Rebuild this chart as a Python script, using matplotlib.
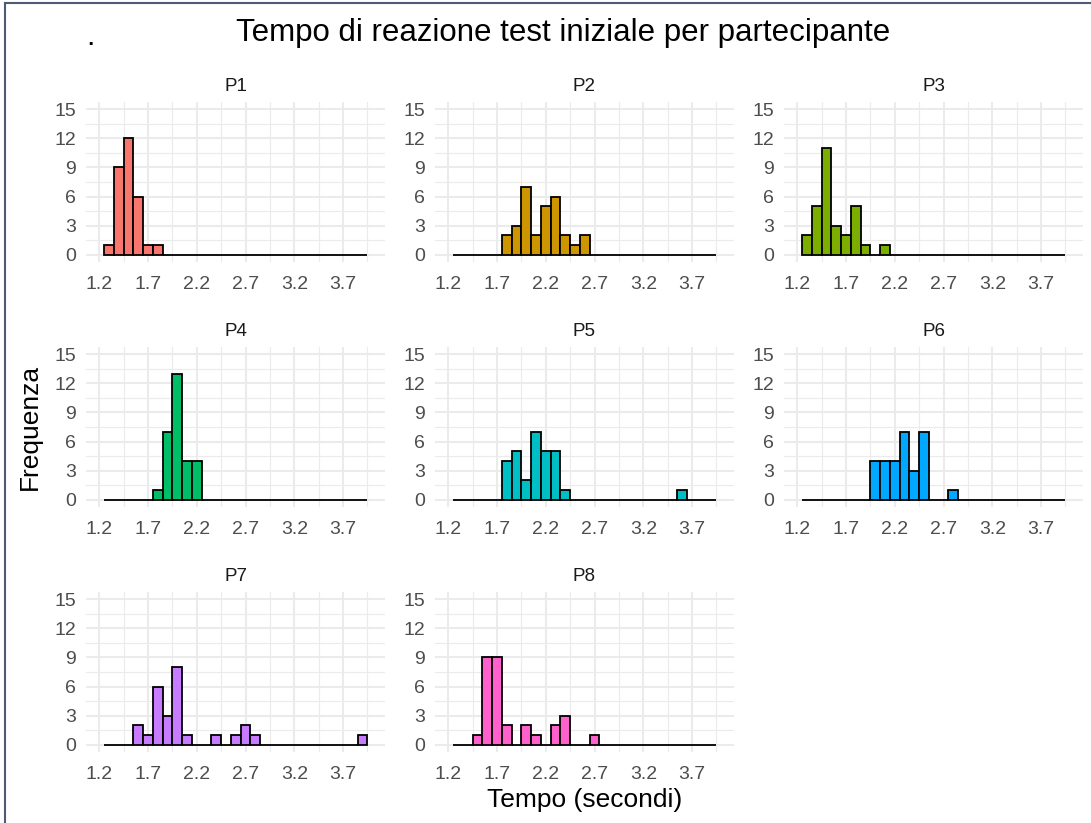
"""
    Facet histograms of initial-test reaction time, one panel per participant.
"""
import matplotlib
matplotlib.use("Agg")
import matplotlib.pyplot as plt
from matplotlib.lines import Line2D

plt.rcParams['font.family'] = ['Liberation Sans', 'DejaVu Sans']

# bin centres (binwidth 0.1)
bin_centers = [1.3, 1.4, 1.5, 1.6, 1.7, 1.8, 1.9, 2.0, 2.1, 2.2, 2.3, 2.4, 2.5, 2.6,
               2.7, 2.8, 2.9, 3.0, 3.1, 3.2, 3.3, 3.4, 3.5, 3.6, 3.7, 3.8, 3.9]

participants = ["P1", "P2", "P3", "P4", "P5", "P6", "P7", "P8"]

p1 = [1, 9, 12, 6, 1, 1, 0, 0, 0, 0, 0, 0, 0, 0, 0, 0, 0, 0, 0, 0, 0, 0, 0, 0, 0, 0, 0]
p2 = [0, 0, 0, 0, 0, 2, 3, 7, 2, 5, 6, 2, 1, 2, 0, 0, 0, 0, 0, 0, 0, 0, 0, 0, 0, 0, 0]
p3 = [2, 5, 11, 3, 2, 5, 1, 0, 1, 0, 0, 0, 0, 0, 0, 0, 0, 0, 0, 0, 0, 0, 0, 0, 0, 0, 0]
p4 = [0, 0, 0, 0, 0, 1, 7, 13, 4, 4, 0, 0, 0, 0, 0, 0, 0, 0, 0, 0, 0, 0, 0, 0, 0, 0, 0]
p5 = [0, 0, 0, 0, 0, 4, 5, 2, 7, 5, 5, 1, 0, 0, 0, 0, 0, 0, 0, 0, 0, 0, 0, 1, 0, 0, 0]
p6 = [0, 0, 0, 0, 0, 0, 0, 4, 4, 4, 7, 3, 7, 0, 0, 1, 0, 0, 0, 0, 0, 0, 0, 0, 0, 0, 0]
p7 = [0, 0, 0, 2, 1, 6, 3, 8, 1, 0, 0, 1, 0, 1, 2, 1, 0, 0, 0, 0, 0, 0, 0, 0, 0, 0, 1]
p8 = [0, 0, 1, 9, 9, 2, 0, 2, 1, 0, 2, 3, 0, 0, 1, 0, 0, 0, 0, 0, 0, 0, 0, 0, 0, 0, 0]
counts = [p1, p2, p3, p4, p5, p6, p7, p8]

colors = ["#F8766D", "#CD9600", "#7CAE00", "#00BE67",
          "#00BFC4", "#00A9FF", "#C77CFF", "#FF61CC"]

x_breaks = [1.2, 1.7, 2.2, 2.7, 3.2, 3.7]
x_minor = [0.95, 1.45, 1.95, 2.45, 2.95, 3.45, 3.95]
y_breaks = [0, 3, 6, 9, 12, 15]
y_minor = [1.5, 4.5, 7.5, 10.5, 13.5]

W, H = 1091, 823
fig = plt.figure(figsize=(W / 100, H / 100), dpi=100)

def px_rect(left, top, w, h):
    return [left / W, 1 - (top + h) / H, w / W, h / H]

col_left = [86, 435, 784]
row_top = [102, 347, 592]
panel_w, panel_h = 299, 160

for i, name in enumerate(participants):
    r, c = divmod(i, 3)
    ax = fig.add_axes(px_rect(col_left[c], row_top[r], panel_w, panel_h))
    ax.set_xlim(1.063, 4.13)
    ax.set_ylim(-0.75, 15.75)

    # grid like theme_minimal
    for v in x_minor:
        ax.axvline(v, color="#EBEBEB", lw=0.8, zorder=0)
    for v in x_breaks:
        ax.axvline(v, color="#EBEBEB", lw=1.5, zorder=0)
    for v in y_minor:
        ax.axhline(v, color="#EBEBEB", lw=0.8, zorder=0)
    for v in y_breaks:
        ax.axhline(v, color="#EBEBEB", lw=1.5, zorder=0)

    ax.bar(bin_centers, counts[i], width=0.1, color=colors[i],
           edgecolor="black", linewidth=1.3, zorder=2)

    ax.set_xticks(x_breaks)
    ax.set_xticklabels([f"{v:.1f}" for v in x_breaks])
    ax.set_yticks(y_breaks)
    ax.tick_params(length=0, labelsize=14, labelcolor="#4D4D4D", pad=7)
    ax.tick_params(axis="x", pad=10)
    for s in ax.spines.values():
        s.set_visible(False)
    ax.set_title(name, fontsize=13.5, color="#1A1A1A", pad=8)

fig.text(563 / W, 1 - 33 / H, "Tempo di reazione test iniziale per partecipante",
         ha="center", va="center", fontsize=22.5, color="black")
fig.text(90 / W, 1 - 37 / H, ".", ha="center", va="center", fontsize=22)
fig.text(30 / W, 1 - 427 / H, "Frequenza", rotation=90,
         ha="center", va="center", fontsize=19)
fig.text(585 / W, 1 - 800 / H, "Tempo (secondi)",
         ha="center", va="center", fontsize=19)

# screenshot frame
fig.add_artist(Line2D([5 / W, 5 / W], [0, 1 - 3 / H], color="#4F5B73", lw=1.5))
fig.add_artist(Line2D([5 / W, 1], [1 - 3 / H, 1 - 3 / H], color="#4F5B73", lw=1.5))

fig.savefig("out.png", dpi=100)
